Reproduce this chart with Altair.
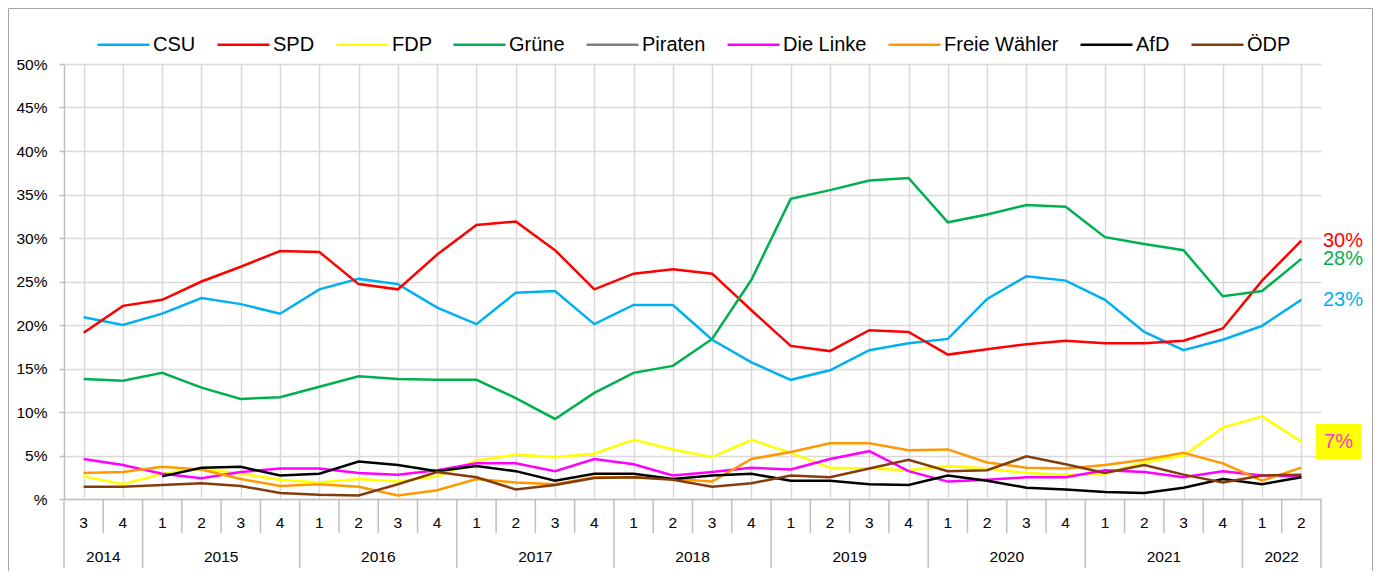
import altair as alt
import pandas as pd

# ---------------- data ----------------
quarters = [3, 4, 1, 2, 3, 4, 1, 2, 3, 4, 1, 2, 3, 4, 1, 2,
            3, 4, 1, 2, 3, 4, 1, 2, 3, 4, 1, 2, 3, 4, 1, 2]
years = [2014, 2014, 2015, 2015, 2015, 2015, 2016, 2016, 2016, 2016,
         2017, 2017, 2017, 2017, 2018, 2018, 2018, 2018, 2019, 2019,
         2019, 2019, 2020, 2020, 2020, 2020, 2021, 2021, 2021, 2021,
         2022, 2022]

parties = ["CSU", "SPD", "FDP", "Grüne", "Piraten", "Die Linke",
           "Freie Wähler", "AfD", "ÖDP"]
colors = ["#00B0F0", "#FF0000", "#FFFF00", "#00B050", "#808080",
          "#FF00FF", "#FF9900", "#000000", "#843C0C"]

csu = [20.9, 20.0, 21.3, 23.1, 22.4, 21.3, 24.1, 25.3, 24.7, 22.0, 20.1, 23.7,
       23.9, 20.1, 22.3, 22.3, 18.3, 15.7, 13.7, 14.8, 17.1, 17.9, 18.4, 23.0,
       25.6, 25.1, 22.9, 19.2, 17.1, 18.3, 19.9, 22.9]
spd = [19.1, 22.2, 22.9, 25.0, 26.7, 28.5, 28.4, 24.7, 24.1, 28.1, 31.5, 31.9,
       28.6, 24.1, 25.9, 26.4, 25.9, 21.7, 17.6, 17.0, 19.4, 19.2, 16.6, 17.2,
       17.8, 18.2, 17.9, 17.9, 18.2, 19.6, 25.1, 29.7]
fdp = [2.6, 1.7, 2.9, 3.5, 2.9, 2.2, 1.9, 2.3, 2.0, 2.6, 4.4, 5.1,
       4.8, 5.2, 6.8, 5.7, 4.8, 6.8, 5.3, 3.6, 3.5, 3.3, 3.8, 3.5,
       3.0, 2.8, 2.9, 4.2, 5.0, 8.2, 9.5, 6.6]
gruene = [13.8, 13.6, 14.5, 12.8, 11.5, 11.7, 12.9, 14.1, 13.8, 13.7, 13.7, 11.6,
          9.2, 12.2, 14.5, 15.3, 18.4, 25.2, 34.5, 35.5, 36.6, 36.9, 31.8, 32.7,
          33.8, 33.6, 30.1, 29.3, 28.6, 23.3, 23.9, 27.6]
piraten = []
linke = [4.6, 3.9, 2.9, 2.4, 3.1, 3.5, 3.5, 3.0, 2.8, 3.3, 4.1, 4.1,
         3.2, 4.6, 4.0, 2.7, 3.1, 3.6, 3.4, 4.6, 5.5, 3.2, 2.0, 2.2,
         2.5, 2.5, 3.3, 3.1, 2.5, 3.2, 2.7, 2.6]
fw = [3.0, 3.1, 3.7, 3.4, 2.3, 1.5, 1.7, 1.4, 0.4, 1.0, 2.3, 1.9,
      1.7, 2.5, 2.5, 2.3, 2.0, 4.6, 5.4, 6.4, 6.4, 5.6, 5.7, 4.2,
      3.6, 3.5, 3.9, 4.5, 5.3, 4.1, 2.1, 3.6]
afd = [None, None, 2.6, 3.6, 3.7, 2.7, 2.9, 4.3, 3.9, 3.2, 3.8, 3.2,
       2.1, 2.9, 2.9, 2.3, 2.7, 2.9, 2.1, 2.1, 1.7, 1.6, 2.7, 2.1,
       1.3, 1.1, 0.8, 0.7, 1.3, 2.3, 1.7, 2.5]
oedp = [1.4, 1.4, 1.6, 1.8, 1.5, 0.7, 0.5, 0.4, 1.7, 3.1, 2.5, 1.1,
        1.6, 2.4, 2.5, 2.2, 1.4, 1.8, 2.7, 2.5, 3.5, 4.5, 3.2, 3.3,
        4.9, 4.0, 3.0, 3.9, 2.8, 1.9, 2.7, 2.8]

y_ticks = [0, 5, 10, 15, 20, 25, 30, 35, 40, 45, 50]
end_label_parties = ["SPD", "Grüne", "CSU"]
boxed_label_party = "FDP"

# ---------------- tables ----------------
series = {"CSU": csu, "SPD": spd, "FDP": fdp, "Grüne": gruene, "Piraten": piraten,
          "Die Linke": linke, "Freie Wähler": fw, "AfD": afd, "ÖDP": oedp}
rows = []
for p in parties:
    for i, v in enumerate(series[p]):
        if v is not None:
            rows.append({"idx": i, "party": p, "value": v})
df = pd.DataFrame(rows)

qdf = pd.DataFrame({"idx": list(range(len(quarters))), "q": [str(q) for q in quarters]})
ydf = (pd.DataFrame({"idx": list(range(len(years))), "year": years})
       .groupby("year", as_index=False)["idx"].mean())
ydf["label"] = ydf["year"].astype(str)

short_b, long_b = [], [-0.5, len(years) - 0.5]
for i in range(1, len(years)):
    (long_b if years[i] != years[i - 1] else short_b).append(i - 0.5)
sdf = pd.DataFrame({"b": short_b})
ldf = pd.DataFrame({"b": long_b})

last = len(quarters) - 1
edf = pd.DataFrame({"party": end_label_parties,
                    "value": [series[p][last] for p in end_label_parties]})
edf["label"] = [f"{round(v)}%" for v in edf["value"]]
bdf = pd.DataFrame({"party": [boxed_label_party],
                    "value": [series[boxed_label_party][last]]})
bdf["label"] = [f"{round(v)}%" for v in bdf["value"]]

# ---------------- chart ----------------
W, H = 1257, 435
FONT = "Liberation Sans"
AX_FS = 15.5
BIG_FS = 20
xscale = alt.Scale(domain=[-0.5, last + 0.5], nice=False, zero=False)
yscale = alt.Scale(domain=[0, 50], nice=False)
cscale = alt.Scale(domain=parties, range=colors)

lines = alt.Chart(df).mark_line(strokeWidth=2.5).encode(
    x=alt.X("idx:Q", scale=xscale,
            axis=alt.Axis(values=list(range(len(quarters))), grid=True, labels=False,
                          ticks=False, domain=True, title=None,
                          gridColor="#D9D9D9", gridWidth=1.5,
                          domainColor="#BFBFBF", domainWidth=1.5)),
    y=alt.Y("value:Q", scale=yscale,
            axis=alt.Axis(values=y_ticks, title=None, grid=True,
                          gridColor="#D9D9D9", gridWidth=1.5,
                          domainColor="#BFBFBF", domainWidth=1.5,
                          tickColor="#BFBFBF", tickWidth=1.5, tickSize=5,
                          labelPadding=12, labelFontSize=AX_FS, labelFont=FONT,
                          labelColor="#000000",
                          labelExpr="datum.value == 0 ? '%' : datum.value + '%'")),
    color=alt.Color("party:N", scale=cscale,
                    legend=alt.Legend(title=None, orient="none", direction="horizontal",
                                      legendX=32, legendY=-47, columns=9,
                                      symbolType="stroke", symbolSize=2704,
                                      symbolStrokeWidth=2.5, labelFontSize=BIG_FS,
                                      labelFont=FONT, labelColor="#000000",
                                      labelOffset=2, columnPadding=16, padding=0)),
    detail="party:N",
)

short_rules = alt.Chart(sdf).mark_rule(color="#BFBFBF", strokeWidth=1.5).encode(
    x=alt.X("b:Q", scale=xscale), y=alt.value(H), y2=alt.value(H + 34))
long_rules = alt.Chart(ldf).mark_rule(color="#BFBFBF", strokeWidth=1.5).encode(
    x=alt.X("b:Q", scale=xscale), y=alt.value(H), y2=alt.value(H + 69))

qtext = alt.Chart(qdf).mark_text(font=FONT, fontSize=AX_FS, baseline="middle",
                                 color="#000000").encode(
    x=alt.X("idx:Q", scale=xscale), y=alt.value(H + 24), text="q:N")
ytext = alt.Chart(ydf).mark_text(font=FONT, fontSize=AX_FS, baseline="middle",
                                 color="#000000").encode(
    x=alt.X("idx:Q", scale=xscale), y=alt.value(H + 58), text="label:N")

end_text = alt.Chart(edf).mark_text(font=FONT, fontSize=BIG_FS, align="left",
                                    baseline="middle").encode(
    x=alt.value(W + 2), y=alt.Y("value:Q", scale=yscale),
    text="label:N", color=alt.Color("party:N", scale=cscale, legend=None))

box = alt.Chart(bdf).mark_point(
    shape="M-1,-0.78L1,-0.78L1,0.78L-1,0.78Z", filled=True, size=2025,
    color="#FFFF00", opacity=1, strokeWidth=0).encode(
    x=alt.value(W + 17.5), y=alt.Y("value:Q", scale=yscale))
box_text = alt.Chart(bdf).mark_text(font=FONT, fontSize=BIG_FS, align="center",
                                    baseline="middle", color="#FF33CC").encode(
    x=alt.value(W + 17.5), y=alt.Y("value:Q", scale=yscale), text="label:N")

frame = alt.Chart(pd.DataFrame({"k": [0]})).mark_rect(
    fillOpacity=0, stroke="#A6A6A6", strokeWidth=1).encode(
    x=alt.value(-55.5), x2=alt.value(W + 51.5),
    y=alt.value(-55.5), y2=alt.value(H + 120))

chart = alt.layer(
    lines, short_rules, long_rules, qtext, ytext, end_text, box, box_text, frame
).properties(
    width=W, height=H,
    autosize=alt.AutoSizeParams(type="none"),
    padding={"left": 56, "top": 56, "right": 52, "bottom": 72},
).configure_view(stroke=None)

chart.save("out.html", embed_options={"renderer": "svg", "actions": False})
